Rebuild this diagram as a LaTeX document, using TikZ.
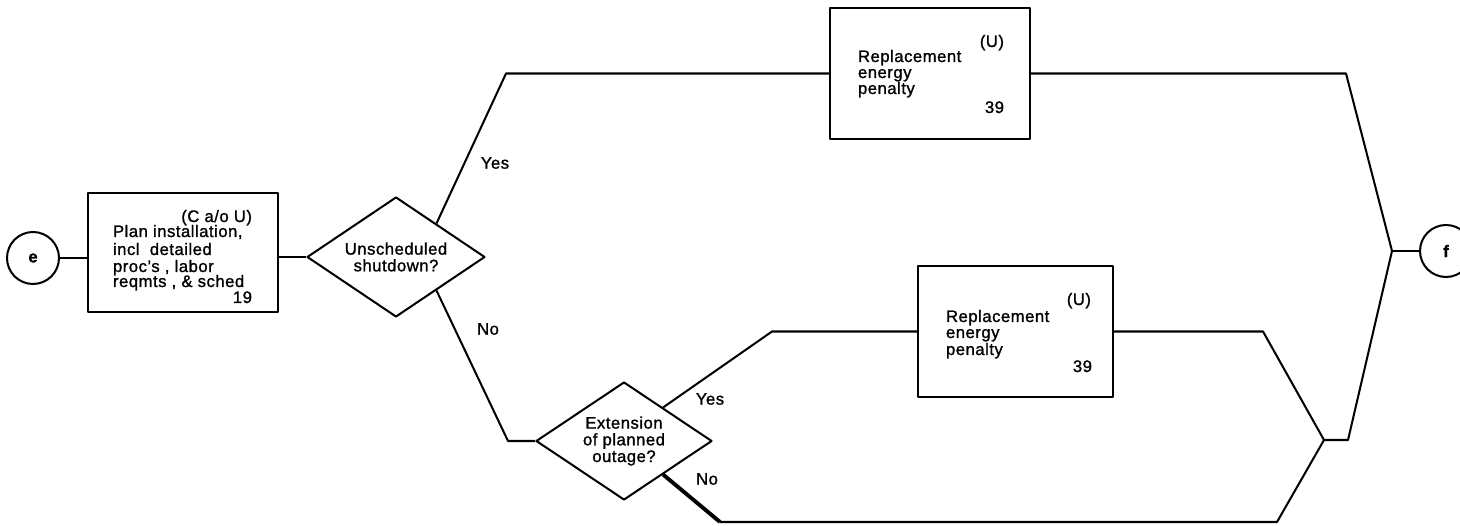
\documentclass[tikz,border=0pt]{standalone}
\usepackage{fontspec}
\setmainfont{Liberation Sans}[LetterSpace=3,FakeBold=1.2]
\usetikzlibrary{shapes.geometric,calc}
\newcommand\dgmfont{\fontsize{9.5}{9.5}\selectfont}
\begin{document}
\begin{tikzpicture}[x=0.02cm,y=-0.02cm,line width=1.15pt,line join=round,
  stepbox/.style={draw,rectangle,inner sep=0pt},
  decision/.style={draw,diamond,inner sep=0pt},
  conn/.style={draw,circle,inner sep=0pt,minimum size=1.04cm,font=\bfseries\dgmfont},
  txt/.style={inner sep=0pt,font=\dgmfont},
  ctxt/.style={inner sep=0pt,align=center,font=\dgmfont},
  nobranch/.style={line width=2.2pt}]
\useasboundingbox (0,0) rectangle (1460,526);

% connectors at both ends
\node[conn] (e) at (33,258) {e};
\node[conn] (f) at (1446,251) {f};

% activity boxes
\node[stepbox,minimum width=3.8cm,minimum height=2.38cm] (b1) at (183,252.5) {};
\node[stepbox,minimum width=4cm,minimum height=2.62cm] (b2) at (930,73.5) {};
\node[stepbox,minimum width=3.9cm,minimum height=2.62cm] (b3) at (1015.5,331.5) {};

% decisions
\node[decision,minimum width=3.56cm,minimum height=2.4cm] (d1) at (396,257) {};
\node[ctxt] (d1txt) at (d1.center) {Unscheduled\\shutdown?};
\node[decision,minimum width=3.52cm,minimum height=2.36cm] (d2) at (624,441) {};
\node[ctxt] (d2txt) at (d2.center) {Extension\\of planned\\outage?};

% box texts
\node[txt,anchor=base east] (b1code) at (253,222) {(C a/o U)};
\node[txt,anchor=base west] (b1l1) at (112,237) {Plan installation,};
\node[txt,anchor=base west] (b1l2) at (112,255) {incl\ \ detailed};
\node[txt,anchor=base west] (b1l3) at (112,272) {proc’s , labor};
\node[txt,anchor=base west] (b1l4) at (112,287) {reqmts , \& sched};
\node[txt,anchor=base east] (b1num) at (253,303) {19};

\node[txt,anchor=base east] (b2code) at (1005,47) {(U)};
\node[txt,anchor=base west] (b2l1) at (857,62) {Replacement};
\node[txt,anchor=base west] (b2l2) at (857,78) {energy};
\node[txt,anchor=base west] (b2l3) at (857,94) {penalty};
\node[txt,anchor=base east] (b2num) at (1005,113) {39};

\node[txt,anchor=base east] (b3code) at (1092,305) {(U)};
\node[txt,anchor=base west] (b3l1) at (945,322) {Replacement};
\node[txt,anchor=base west] (b3l2) at (945,338) {energy};
\node[txt,anchor=base west] (b3l3) at (945,355) {penalty};
\node[txt,anchor=base east] (b3num) at (1093,372) {39};

% branch labels
\node[txt] (yes1) at (495,163) {Yes};
\node[txt] (no1) at (488,329) {No};
\node[txt] (yes2) at (710,399) {Yes};
\node[txt] (no2) at (707,479) {No};

% bends and junctions
\coordinate (y1) at ($(d1.north)!0.45!(d1.east)$);
\coordinate (n1) at ($(d1.south)!0.45!(d1.east)$);
\coordinate (y2) at ($(d2.north)!0.44!(d2.east)$);
\coordinate (n2) at ($(d2.south)!0.44!(d2.east)$);
\coordinate (ytop) at (506,73.5);
\coordinate (rtop) at (1346,73.5);
\coordinate (fj) at (1392,251);
\coordinate (nlow) at (508,441);
\coordinate (ylow) at (772,331.5);
\coordinate (rlow) at (1263,331.5);
\coordinate (j2) at (1324,440);
\coordinate (j2r) at (1348,440);
\coordinate (nbot) at (720,522);
\coordinate (nbotr) at (1277,522);

% flow lines
\draw (e.east) -- (e.east -| b1.west);
\draw (b1.east |- d1.west) -- (d1.west);
\draw (y1) -- (ytop) -- (b2.west);
\draw (b2.east) -- (rtop) -- (fj);
\draw (fj) -- (f.west);
\draw (n1) -- (nlow) -- (d2.west);
\draw (y2) -- (ylow) -- (b3.west);
\draw (b3.east) -- (rlow) -- (j2);
\draw[nobranch] (n2) -- (nbot);
\draw (nbot) -- (nbotr) -- (j2);
\draw (j2) -- (j2r) -- (fj);
\end{tikzpicture}
\end{document}
